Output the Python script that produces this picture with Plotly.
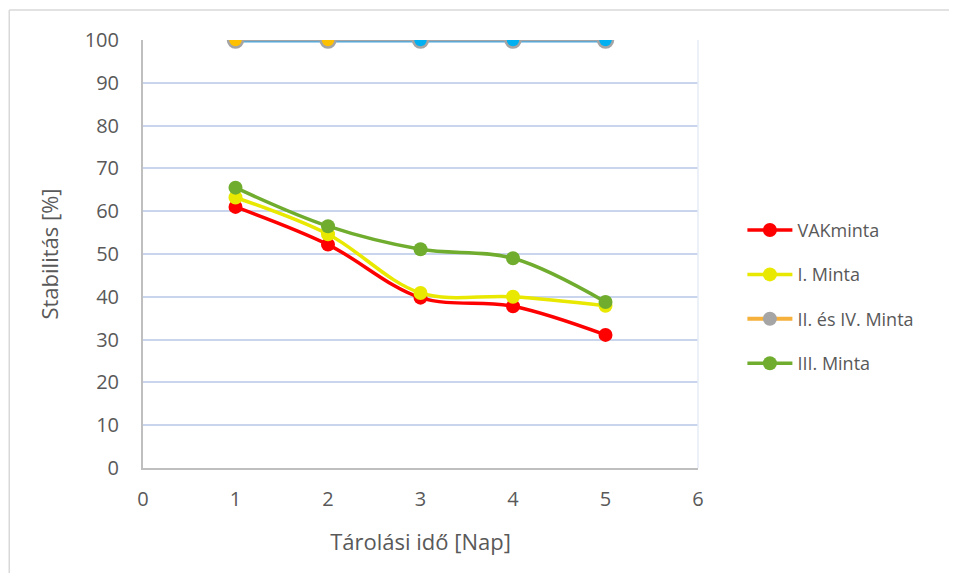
import plotly.graph_objects as go

days = [1, 2, 3, 4, 5]
vak = [61, 52.2, 39.8, 37.8, 31.1]
minta_1 = [63.2, 54.6, 40.9, 40.0, 37.9]
minta_2_4 = [100, 100, 100, 100, 100]
minta_3 = [65.5, 56.5, 51.1, 49.0, 38.8]
# first two points of the II./IV. series are orange, the rest blue
minta_2_4_colors = ["#ffc000", "#ffc000", "#00b0f0", "#00b0f0", "#00b0f0"]

font = "Open Sans, DejaVu Sans, sans-serif"
grey = "#595959"

fig = go.Figure()

fig.add_trace(go.Scatter(
    x=days, y=vak, name="VAKminta", mode="lines+markers",
    line=dict(color="#ff0000", width=3.5, shape="spline", smoothing=1.0),
    marker=dict(color="#ff0000", size=14), legendgroup="a",
))
fig.add_trace(go.Scatter(
    x=days, y=minta_1, name="I. Minta", mode="lines+markers",
    line=dict(color="#e8e800", width=3.5, shape="spline", smoothing=1.0),
    marker=dict(color="#e8e800", size=14), legendgroup="b",
))
# II. and IV. sample: blue line under a grey one, drawn on the same values
fig.add_trace(go.Scatter(
    x=days, y=minta_2_4, mode="lines", showlegend=False,
    line=dict(color="#4aa8e0", width=5), hoverinfo="skip", legendgroup="c",
))
fig.add_trace(go.Scatter(
    x=days, y=minta_2_4, mode="lines+markers", showlegend=False,
    line=dict(color="#a5a5a5", width=2.5),
    marker=dict(color=minta_2_4_colors, size=15,
                line=dict(color="#a5a5a5", width=2.5)),
    legendgroup="c",
))
fig.add_trace(go.Scatter(
    x=[None], y=[None], name="II. és IV. Minta", mode="lines+markers",
    line=dict(color="#f5b13c", width=4),
    marker=dict(color="#a5a5a5", size=14), legendgroup="c",
))
fig.add_trace(go.Scatter(
    x=days, y=minta_3, name="III. Minta", mode="lines+markers",
    line=dict(color="#70ad2f", width=3.5, shape="spline", smoothing=1.0),
    marker=dict(color="#70ad2f", size=14), legendgroup="d",
))

fig.update_layout(
    width=941, height=565,
    paper_bgcolor="white", plot_bgcolor="white",
    margin=dict(l=135, r=251, t=32, b=105),
    font=dict(family=font, color=grey, size=20),
    legend=dict(
        x=1.08, y=0.40, xanchor="left", yanchor="middle",
        traceorder="grouped", tracegroupgap=18,
        font=dict(size=18, color=grey), itemwidth=45,
    ),
    shapes=[
        dict(type="line", xref="paper", yref="paper", x0=1, x1=1, y0=0, y1=1,
             line=dict(color="#e6ebf6", width=1.5)),
        dict(type="line", xref="paper", yref="paper", x0=-0.241, x1=1.5,
             y0=1.07, y1=1.07, line=dict(color="#d9d9d9", width=1.5)),
        dict(type="line", xref="paper", yref="paper", x0=-0.241, x1=-0.241,
             y0=-0.3, y1=1.07, line=dict(color="#d9d9d9", width=1.5)),
    ],
)
fig.update_xaxes(
    range=[0, 6], dtick=1, showgrid=False, zeroline=False,
    showline=True, linecolor="#bfbfbf", linewidth=2,
    ticks="", ticklabelstandoff=12,
    title=dict(text="Tárolási idő [Nap]", font=dict(size=22), standoff=24),
)
fig.update_yaxes(
    range=[0, 100], dtick=10, showgrid=True, gridcolor="#c9d5ec", gridwidth=1.5,
    zeroline=False, showline=True, linecolor="#bfbfbf", linewidth=2,
    ticks="", ticklabelstandoff=18,
    title=dict(text="Stabilitás [%]", font=dict(size=22), standoff=20),
)

fig.write_html("out.html")
